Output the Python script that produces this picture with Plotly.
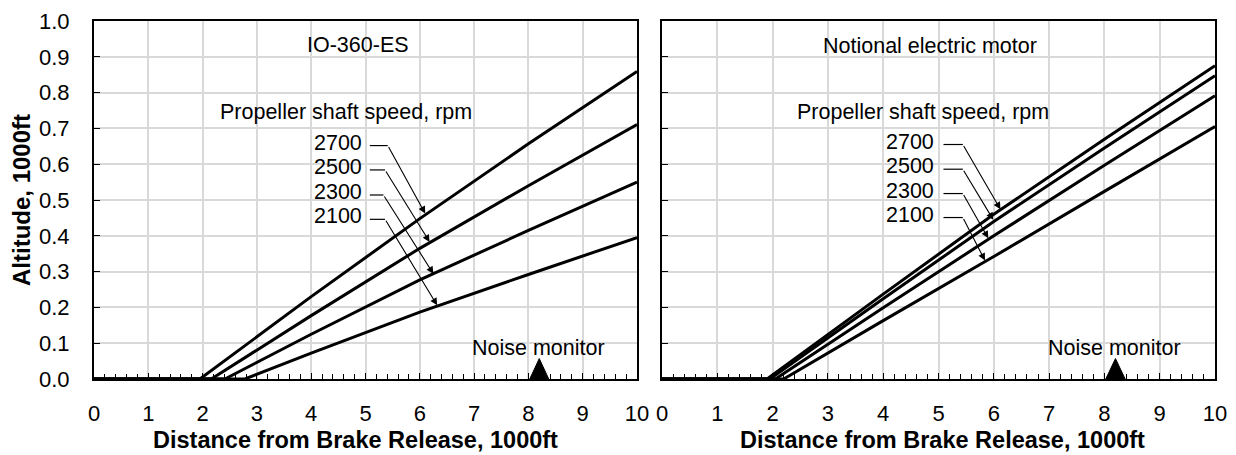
import plotly.graph_objects as go

# ---------------- data ----------------
rpm_labels = ["2700", "2500", "2300", "2100"]

# IO-360-ES (left panel): distance (1000 ft) / altitude (1000 ft)
io_x_2700 = [0, 1.95, 4, 6, 8, 10]
io_y_2700 = [0, 0, 0.230, 0.448, 0.657, 0.859]
io_x_2500 = [0, 2.16, 4, 6, 8, 10]
io_y_2500 = [0, 0, 0.177, 0.365, 0.540, 0.711]
io_x_2300 = [0, 2.41, 4, 6, 8, 10]
io_y_2300 = [0, 0, 0.125, 0.277, 0.415, 0.550]
io_x_2100 = [0, 2.78, 4, 6, 8, 10]
io_y_2100 = [0, 0, 0.072, 0.187, 0.292, 0.395]

# Notional electric motor (right panel)
em_x_2700 = [0, 1.90, 4, 6, 8, 10]
em_y_2700 = [0, 0, 0.237, 0.460, 0.670, 0.875]
em_x_2500 = [0, 1.95, 4, 6, 8, 10]
em_y_2500 = [0, 0, 0.224, 0.440, 0.645, 0.847]
em_x_2300 = [0, 2.05, 4, 6, 8, 10]
em_y_2300 = [0, 0, 0.199, 0.400, 0.597, 0.791]
em_x_2100 = [0, 2.20, 4, 6, 8, 10]
em_y_2100 = [0, 0, 0.163, 0.342, 0.524, 0.705]

noise_monitor_x = 8.2

x_ticks = [0, 1, 2, 3, 4, 5, 6, 7, 8, 9, 10]
y_ticks = [0.0, 0.1, 0.2, 0.3, 0.4, 0.5, 0.6, 0.7, 0.8, 0.9, 1.0]
y_tick_text = ["0.0", "0.1", "0.2", "0.3", "0.4", "0.5", "0.6", "0.7", "0.8", "0.9", "1.0"]

# ---------------- figure ----------------
FONT = "Arial, Liberation Sans, sans-serif"
W, H = 1236, 455
L1, R1 = 94, 637
L2, R2 = 662, 1215
TOP, BOT = 21, 379

fig = go.Figure()

line_style = dict(color="black", width=3)
left_series = [(io_x_2700, io_y_2700), (io_x_2500, io_y_2500),
               (io_x_2300, io_y_2300), (io_x_2100, io_y_2100)]
right_series = [(em_x_2700, em_y_2700), (em_x_2500, em_y_2500),
                (em_x_2300, em_y_2300), (em_x_2100, em_y_2100)]

for (xs, ys), name in zip(left_series, rpm_labels):
    fig.add_trace(go.Scatter(x=xs, y=ys, mode="lines", line=line_style,
                             name=name, xaxis="x", yaxis="y",
                             showlegend=False, hoverinfo="skip"))
for (xs, ys), name in zip(right_series, rpm_labels):
    fig.add_trace(go.Scatter(x=xs, y=ys, mode="lines", line=line_style,
                             name=name, xaxis="x2", yaxis="y2",
                             showlegend=False, hoverinfo="skip"))

# noise monitor triangles
hw, th = 0.175, 0.057
for xa, ya in (("x", "y"), ("x2", "y2")):
    fig.add_trace(go.Scatter(
        x=[noise_monitor_x - hw, noise_monitor_x + hw, noise_monitor_x, noise_monitor_x - hw],
        y=[0, 0, th, 0], mode="lines", fill="toself", fillcolor="black",
        line=dict(color="black", width=1), xaxis=xa, yaxis=ya,
        showlegend=False, hoverinfo="skip"))

# label leader lines (horizontal dashes)
label_text_x = {"x": 4.98, "x2": 4.95}
dash_start = {"x": 5.08, "x2": 5.09}
dash_end = {"x": [5.41, 5.36, 5.33, 5.36], "x2": [5.44, 5.44, 5.44, 5.44]}
dash_y = {"x": [0.652, 0.584, 0.514, 0.446], "x2": [0.655, 0.586, 0.518, 0.451]}
tips = {"x": [(6.10, 0.462), (6.18, 0.383), (6.25, 0.294), (6.32, 0.206)],
        "x2": [(6.12, 0.474), (5.99, 0.445), (5.90, 0.393), (5.84, 0.331)]}

TXT = dict(family=FONT, size=21.5, color="black")
annotations = []
for xa, ya in (("x", "y"), ("x2", "y2")):
    for i, lab in enumerate(rpm_labels):
        fig.add_trace(go.Scatter(x=[dash_start[xa], dash_end[xa][i]], y=[dash_y[xa][i]] * 2,
                                 mode="lines", line=dict(color="black", width=1.2),
                                 xaxis=xa, yaxis=ya, showlegend=False, hoverinfo="skip"))
        annotations.append(dict(x=label_text_x[xa], y=dash_y[xa][i] + 0.008, xref=xa, yref=ya,
                                text=lab, showarrow=False, xanchor="right", yanchor="middle",
                                font=TXT))
        tx, ty = tips[xa][i]
        annotations.append(dict(x=tx, y=ty, xref=xa, yref=ya, ax=dash_end[xa][i],
                                ay=dash_y[xa][i], axref=xa, ayref=ya, text="",
                                showarrow=True, arrowhead=2, arrowsize=1.3, arrowwidth=1.1,
                                arrowcolor="black", standoff=0))
    annotations.append(dict(x=4.64 if xa == "x" else 4.72, y=0.747, xref=xa, yref=ya,
                            text="Propeller shaft speed, rpm", showarrow=False, font=TXT))
    annotations.append(dict(x=8.19, y=0.088, xref=xa, yref=ya, text="Noise monitor",
                            showarrow=False, font=TXT))

annotations.append(dict(x=4.87, y=0.933, xref="x", yref="y", text="IO-360-ES", showarrow=False,
                        font=TXT))
annotations.append(dict(x=4.84, y=0.93, xref="x2", yref="y2", text="Notional electric motor",
                        showarrow=False, font=TXT))

# axis titles
plot_h = BOT - TOP
for cx in ((L1 + R1) / 2 - 10, (L2 + R2) / 2 + 4):
    annotations.append(dict(x=cx / W, y=-(440 - BOT) / plot_h, xref="paper", yref="paper",
                            text="<b>Distance from Brake Release, 1000ft</b>", showarrow=False,
                            xanchor="center", yanchor="middle",
                            font=dict(family=FONT, size=23.5, color="black")))
annotations.append(dict(x=21 / W, y=0.5, xref="paper", yref="paper",
                        text="<b>Altitude, 1000ft</b>", showarrow=False, textangle=-90,
                        xanchor="center", yanchor="middle",
                        font=dict(family=FONT, size=24, color="black")))

xaxis_common = dict(range=[0, 10], tickvals=x_ticks, ticks="inside", ticklen=6,
                    tickcolor="black", tickwidth=1, showgrid=True, gridcolor="#d9d9d9",
                    gridwidth=2, showline=True, linecolor="black", linewidth=2, mirror=True,
                    zeroline=False, tickfont=dict(family=FONT, size=22, color="black"),
                    ticklabelstandoff=14, automargin=False,
                    minor=dict(dtick=0.2, tick0=0, ticks="inside", ticklen=5,
                               tickcolor="black", tickwidth=1, showgrid=False))
yaxis_common = dict(range=[0, 1.0], tickvals=y_ticks, ticktext=y_tick_text, ticks="inside",
                    ticklen=6, tickcolor="black", tickwidth=1, showgrid=True,
                    gridcolor="#d9d9d9", gridwidth=2, showline=True, linecolor="black",
                    linewidth=2, mirror=True, zeroline=False, automargin=False,
                    tickfont=dict(family=FONT, size=22, color="black"))

fig.update_layout(
    width=W, height=H,
    margin=dict(l=0, r=0, t=TOP, b=H - BOT, autoexpand=False),
    paper_bgcolor="white", plot_bgcolor="white",
    showlegend=False,
    xaxis=dict(domain=[L1 / W, R1 / W], anchor="y", **xaxis_common),
    yaxis=dict(domain=[0, 1], anchor="x", ticklabelstandoff=18, **yaxis_common),
    xaxis2=dict(domain=[L2 / W, R2 / W], anchor="y2", **xaxis_common),
    yaxis2=dict(domain=[0, 1], anchor="x2", showticklabels=False, **yaxis_common),
    annotations=annotations,
    font=dict(family=FONT, color="black"),
)

fig.write_html("out.html", config={"displayModeBar": False},
               post_script="document.body.style.margin='0';document.body.style.overflow='hidden';")
